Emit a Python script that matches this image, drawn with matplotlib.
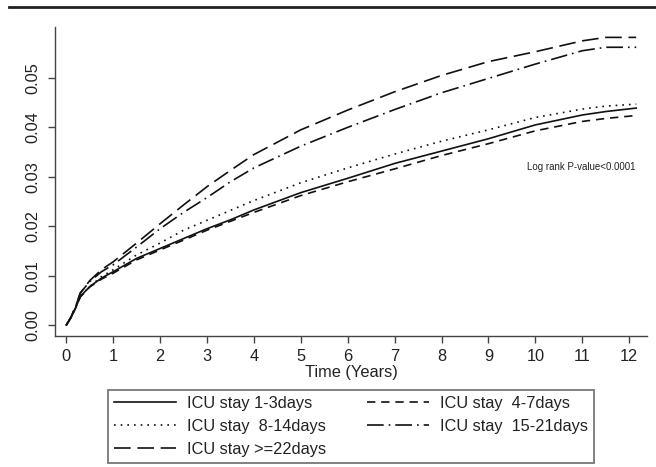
import matplotlib
matplotlib.use("Agg")
import matplotlib.pyplot as plt
from matplotlib.lines import Line2D

plt.rcParams['font.family'] = ['Liberation Sans', 'DejaVu Sans']

time = [0, 0.1, 0.2, 0.3, 0.5, 0.75, 1, 1.5, 2, 2.5, 3, 3.5, 4, 5, 6, 7, 8, 9, 10, 11, 11.5, 12.15]

icu_1_3 = [0, 0.0015, 0.0035, 0.0058, 0.0078, 0.0095, 0.0108, 0.0135, 0.0155, 0.0175, 0.0195, 0.0213,
           0.0233, 0.0268, 0.0297, 0.0327, 0.0352, 0.0377, 0.0405, 0.0425, 0.0432, 0.0439]
icu_4_7 = [0, 0.0015, 0.0035, 0.0057, 0.0077, 0.0093, 0.0105, 0.0132, 0.0152, 0.0172, 0.0192, 0.0210,
           0.0228, 0.0262, 0.0290, 0.0316, 0.0343, 0.0367, 0.0393, 0.0412, 0.0418, 0.0424]
icu_8_14 = [0, 0.0015, 0.0035, 0.0058, 0.0078, 0.0098, 0.0112, 0.0142, 0.0166, 0.0192, 0.0212, 0.0232,
            0.0252, 0.0288, 0.0318, 0.0346, 0.0372, 0.0395, 0.0420, 0.0437, 0.0443, 0.0447]
icu_15_21 = [0, 0.0016, 0.0038, 0.0065, 0.0088, 0.0108, 0.0122, 0.0158, 0.0195, 0.0228, 0.0258, 0.0290,
             0.0318, 0.0362, 0.0400, 0.0436, 0.0470, 0.0499, 0.0528, 0.0555, 0.0562, 0.0562]
icu_22plus = [0, 0.0016, 0.0038, 0.0065, 0.0090, 0.0112, 0.0128, 0.0166, 0.0205, 0.0243, 0.0280, 0.0313,
              0.0345, 0.0395, 0.0435, 0.0472, 0.0505, 0.0533, 0.0553, 0.0575, 0.0582, 0.0582]

labels = ["ICU stay 1-3days", "ICU stay  8-14days", "ICU stay >=22days",
          "ICU stay  4-7days", "ICU stay  15-21days"]
x_ticks = list(range(0, 13))
y_ticks = [0.00, 0.01, 0.02, 0.03, 0.04, 0.05]
x_label = "Time (Years)"
annotation = "Log rank P-value<0.0001"

W, H = 656, 467
fig = plt.figure(figsize=(W / 100, H / 100), dpi=100)
ax = fig.add_axes([55 / W, 1 - 336 / H, (647 - 55) / W, (336 - 27) / H])

lc = '#111111'
lw = 1.2
h1, = ax.plot(time, icu_1_3, color=lc, lw=lw, linestyle='-')
h2, = ax.plot(time, icu_4_7, color=lc, lw=lw, dashes=(5, 3.5))
h3, = ax.plot(time, icu_8_14, color=lc, lw=lw, dashes=(1, 3))
h4, = ax.plot(time, icu_15_21, color=lc, lw=lw, dashes=(10, 3, 1, 3))
h5, = ax.plot(time, icu_22plus, color=lc, lw=lw, dashes=(10, 4))

ax.set_xlim(-0.24, 12.38)
ax.set_ylim(-0.0022, 0.0603)
ax.set_xticks(x_ticks)
ax.set_yticks(y_ticks)
ax.set_yticklabels([f"{v:.2f}" for v in y_ticks], rotation=90, va='center')
for s in ['top', 'right']:
    ax.spines[s].set_visible(False)
for s in ['left', 'bottom']:
    ax.spines[s].set_color('#444444')
    ax.spines[s].set_linewidth(1.0)
ax.tick_params(axis='both', length=5, width=1.0, color='#444444', labelsize=11.8,
               labelcolor='#222222')
ax.tick_params(axis='x', pad=4.5)
ax.tick_params(axis='y', pad=5.5)

ax.set_xlabel(x_label, fontsize=11.8, color='#222222', va='center')
ax.xaxis.set_label_coords(0.5, -(372 - 336) / (336 - 27))

ax.text(12.13, 0.032, annotation, ha='right', va='center', fontsize=7, color='#222222')

leg = fig.legend([h1, h3, h5, h2, h4], labels, ncol=2,
                 loc='upper left',
                 bbox_to_anchor=(108 / W, 1 - 466 / H, (594 - 108) / W, (466 - 390) / H),
                 mode='expand', fancybox=False, frameon=True,
                 fontsize=11.8, handlelength=3.8, handletextpad=0.7,
                 labelspacing=0.5, borderpad=0.35, borderaxespad=0, columnspacing=1.0)
leg.get_frame().set_edgecolor('#555555')
leg.get_frame().set_linewidth(1.3)
for t in leg.get_texts():
    t.set_color('#222222')

fig.add_artist(Line2D([9 / W, 1.0], [1 - 6.7 / H, 1 - 6.7 / H], transform=fig.transFigure,
                      color='#222222', lw=2.0))

fig.savefig('out.png', dpi=100)
